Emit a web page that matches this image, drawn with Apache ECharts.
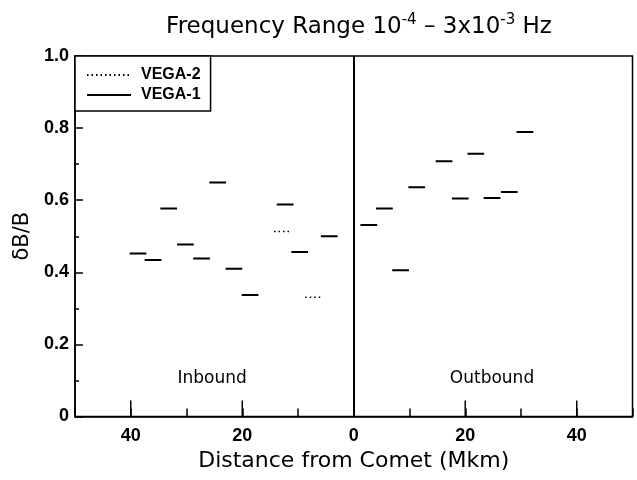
<!DOCTYPE html>
<html>
<head>
<meta charset="utf-8">
<script src="https://cdn.jsdelivr.net/npm/echarts@6/dist/echarts.min.js"></script>
<style>html,body{margin:0;padding:0;background:#fff}#c{width:637px;height:480px}</style>
</head>
<body>
<div id="c"></div>
<script>
// Distance from comet (Mkm): negative = inbound, positive = outbound
const vega1Dist = [-38.7, -36.0, -33.2, -30.2, -27.3, -24.4, -21.5, -18.6, -12.3, -9.7, -4.4,
                   2.7, 5.5, 8.4, 11.3, 16.2, 19.1, 21.9, 24.8, 27.9, 30.7];
const vega1Val  = [0.452, 0.434, 0.577, 0.477, 0.438, 0.649, 0.410, 0.337, 0.588, 0.456, 0.500,
                   0.531, 0.577, 0.406, 0.636, 0.708, 0.605, 0.729, 0.606, 0.623, 0.789];
const vega2Dist = [-12.8, -7.2];
const vega2Val  = [0.513, 0.331];
const binHalfWidth = 1.5;           // each value covers a ~3 Mkm interval
const majorXTicks = [-40, -20, 0, 20, 40];
const regionLabels = ['Inbound', 'Outbound'];
const regionPos = [-25.4, 24.8];
const regionY = 0.105;

function segs(dist, val) {
  const out = [];
  for (let i = 0; i < dist.length; i++) {
    out.push([dist[i] - binHalfWidth, val[i]]);
    out.push([dist[i] + binHalfWidth, val[i]]);
    out.push([dist[i] + binHalfWidth, null]);
  }
  return out;
}

const FONT = 'Liberation Sans, Arial, sans-serif';
const WIDE = 'DejaVu Sans, Verdana, sans-serif';
const chart = echarts.init(document.getElementById('c'), null, {renderer: 'canvas'});
chart.setOption({
  animation: false,
  backgroundColor: '#fff',
  title: {
    text: 'Frequency Range 10{sup|-4} – 3x10{sup|-3} Hz',
    left: 354, top: 8, textAlign: 'center',
    textStyle: {
      fontFamily: WIDE, fontSize: 23, fontWeight: 'normal', color: '#000',
      rich: { sup: { fontFamily: WIDE, fontSize: 15, color: '#000', verticalAlign: 'top', padding: [0, 0, 13, 0] } }
    }
  },
  legend: {
    left: 75, top: 56, orient: 'vertical',
    data: ['VEGA-2', 'VEGA-1'],
    itemWidth: 44, itemHeight: 14, itemGap: 4,
    padding: [11, 10, 8, 11],
    borderColor: '#000', borderWidth: 1.5, borderRadius: 0,
    backgroundColor: '#fff',
    itemStyle: { opacity: 0 },
    textStyle: { fontFamily: FONT, fontSize: 16, fontWeight: 'bold', color: '#000', padding: [0, 0, 0, 5] }
  },
  grid: { left: 75, right: 4.5, top: 56, bottom: 63.5, show: true, borderColor: '#000', borderWidth: 1.5, containLabel: false },
  xAxis: {
    type: 'value', min: -50, max: 50, interval: 10,
    name: 'Distance from Comet (Mkm)', nameLocation: 'middle', nameGap: 34,
    nameTextStyle: { fontFamily: WIDE, fontSize: 22, color: '#000' },
    axisLine: { show: true, onZero: false, lineStyle: { color: '#000', width: 1.5 } },
    axisTick: { show: true, inside: true, length: 8, lineStyle: { color: '#000', width: 1.5 } },
    axisLabel: {
      fontFamily: FONT, fontSize: 18, fontWeight: 'bold', color: '#000', margin: 11,
      formatter: v => (Math.abs(v) <= 40 && v % 20 === 0) ? String(Math.abs(v)) : ''
    },
    splitLine: { show: false }
  },
  yAxis: {
    type: 'value', min: 0, max: 1, interval: 0.2,
    name: 'δB/B', nameLocation: 'middle', nameGap: 42, nameRotate: 90,
    nameTextStyle: { fontFamily: WIDE, fontSize: 21, color: '#000' },
    axisLine: { show: true, onZero: false, lineStyle: { color: '#000', width: 1.5 } },
    axisTick: { show: true, inside: true, length: 8, lineStyle: { color: '#000', width: 1.5 } },
    minorTick: { show: true, splitNumber: 2, length: 4, lineStyle: { color: '#000', width: 1.5 } },
    axisLabel: {
      fontFamily: FONT, fontSize: 18, fontWeight: 'bold', color: '#000', margin: 6,
      formatter: v => v === 0 ? '0' : v.toFixed(1)
    },
    splitLine: { show: false }
  },
  series: [
    {
      name: 'VEGA-2', type: 'line', data: segs(vega2Dist, vega2Val),
      showSymbol: false, symbol: 'none', connectNulls: false,
      lineStyle: { color: '#000', width: 1.5, type: [1.5, 3] },
      itemStyle: { color: '#000', opacity: 0 }, z: 3
    },
    {
      name: 'VEGA-1', type: 'line', data: segs(vega1Dist, vega1Val),
      showSymbol: false, symbol: 'none', connectNulls: false,
      lineStyle: { color: '#000', width: 2, type: 'solid' },
      itemStyle: { color: '#000', opacity: 0 }, z: 3,
      markLine: {
        silent: true, symbol: ['none', 'none'], label: { show: false },
        lineStyle: { color: '#000', width: 2, type: 'solid' },
        data: [{ xAxis: 0 }]
      },
      markPoint: {
        silent: true, symbol: 'circle', symbolSize: 0,
        itemStyle: { opacity: 1 },
        label: { show: true, position: 'inside', fontFamily: WIDE, fontSize: 17, color: '#000', formatter: p => p.name },
        data: regionLabels.map((n, i) => ({ name: n, coord: [regionPos[i], regionY] }))
      }
    },
    {
      name: 'majorTicks', type: 'custom', silent: true,
      data: majorXTicks.map(v => [v, 0]),
      renderItem: (params, api) => {
        const p = api.coord([api.value(0), 0]);
        return { type: 'line', shape: { x1: p[0], y1: p[1], x2: p[0], y2: p[1] - 16 }, style: { stroke: '#000', lineWidth: 1.5 } };
      },
      z: 4
    }
  ]
});
</script>
</body>
</html>
